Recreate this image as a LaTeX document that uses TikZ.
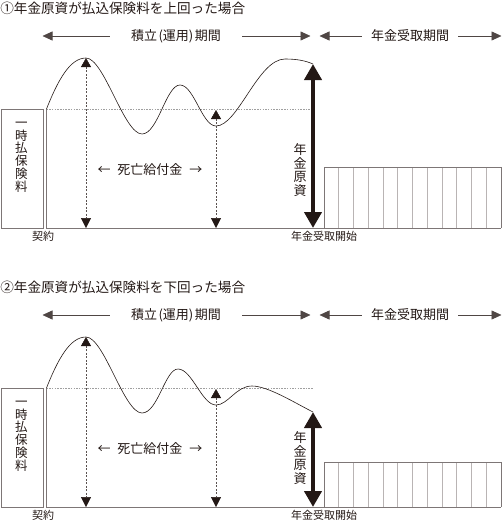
\documentclass[tikz,border=0pt]{standalone}
\usepackage{fontspec}
\setmainfont{Noto Sans CJK JP}
\usepackage{tikz}
\usetikzlibrary{arrows.meta}
\definecolor{inkblack}{RGB}{35,24,21}
\definecolor{framegray}{RGB}{125,118,118}
\definecolor{bargray}{RGB}{185,180,180}

\begin{document}
\begin{tikzpicture}[x=1pt, y=-1pt, line width=0.6pt, color=inkblack,
    txt/.style={font=\fontsize{13}{15}\selectfont, inner sep=0pt},
    small/.style={font=\fontsize{11}{13}\selectfont, inner sep=0pt},
    vtext/.style={font=\fontsize{12.5}{12.8}\selectfont, align=center, inner sep=0pt},
    period/.style={draw=inkblack!80, line width=0.6pt},
    dotline/.style={draw=gray!75, dash pattern=on 1.5pt off 1.2pt, line width=0.6pt},
    deathline/.style={draw=inkblack!75, dash pattern=on 2pt off 1.5pt, line width=0.5pt,
        arrows={Triangle[width=10pt,length=9pt,color=inkblack]-Triangle[width=10pt,length=10pt,color=inkblack]}},
    bigarrow/.style={line width=4.5pt,
        arrows={Triangle[width=17pt,length=16pt]-Triangle[width=17pt,length=16pt]}}]
  \useasboundingbox (0,0) rectangle (502,522);

  % two panels share the same frame
  \foreach \p/\oy/\num/\cmp/\bt/\at/\cy in {1/0/①/上/167/64/170, 2/279/②/下/183/133/179} {
    \begin{scope}[shift={(0,\oy)}]
      \node[txt, font=\fontsize{13.6}{15}\selectfont, anchor=west] (title\p) at (0,8)
        {\num 年金原資が払込保険料を\cmp 回った場合};
      % period arrows
      \node[txt, inner xsep=21pt] (accum\p) at (176,36) {積立\kern1.5pt(運用)\kern1.5pt期間};
      \node[txt, inner xsep=9pt] (annu\p) at (410,36) {年金受取期間};
      \coordinate (accL\p) at (42.5,36);
      \coordinate (accR\p) at (310.5,36);
      \coordinate (annL\p) at (319.5,36);
      \coordinate (annR\p) at (501.5,36);
      \draw[period, arrows={Triangle[width=9pt,length=10pt]-}] (accL\p) -- (accum\p.west);
      \draw[period, arrows={-Triangle[width=9pt,length=10pt]}] (accum\p.east) -- (accR\p);
      \draw[period, arrows={Triangle[width=9pt,length=10pt]-}] (annL\p) -- (annu\p.west);
      \draw[period, arrows={-Triangle[width=9pt,length=10pt]}] (annu\p.east) -- (annR\p);
      % single premium box
      \node[draw=framegray, minimum width=41.5pt, minimum height=119pt, anchor=north west,
            inner sep=0pt] (premium\p) at (1,109) {};
      \node[vtext] (premtxt\p) at (21.5,157) {一\\時\\払\\保\\険\\料};
      % axes and premium level
      \coordinate (start\p) at (46.5,109);
      \coordinate (orig\p) at (46.5,228);
      \coordinate (endax\p) at (501,228);
      \coordinate (level\p) at (313,109);
      \draw[framegray] (start\p) -- (orig\p) -- (endax\p);
      \draw[dotline] (start\p) -- (level\p);
      % death benefit
      \coordinate (peakA\p) at (86,58);
      \coordinate (peakB\p) at (216,110);
      \draw[deathline] (peakA\p) -- (peakA\p |- orig\p);
      \draw[deathline] (peakB\p) -- (peakB\p |- orig\p);
      \node[txt] (death\p) at (150,170) {←\hspace{7pt}死亡給付金\hspace{7pt}→};
      % annuity payments
      \draw[bargray] \foreach \i in {1,...,11} {(324+\i*14.75,\bt) -- (324+\i*14.75,228)};
      \draw[framegray] (324,228) |- (501,\bt) -- (501,228);
      % annuity fund
      \coordinate (fundtop\p) at (313,\at);
      \coordinate (fundbot\p) at (313,228);
      \draw[bigarrow] (fundtop\p) -- (fundbot\p);
      \node[vtext, font=\fontsize{13}{13.5}\selectfont] (fund\p) at (300,\cy) {年\\金\\原\\資};
      \node[small] (contract\p) at (43,236.5) {契約};
      \node[small] (payout\p) at (324,236.5) {年金受取開始};
    \end{scope}
  }

  % fund curve above the premium
  \draw (start1) .. controls (58,80) and (70,58) .. (peakA1)
    .. controls (104,58) and (124,134) .. (142,134)
    .. controls (158,134) and (166,85) .. (180,85)
    .. controls (194,85) and (202,126) .. (216,126)
    .. controls (238,126) and (258,59) .. (285,59)
    .. controls (298,59) and (306,61) .. (fundtop1);

  % fund curve below the premium
  \begin{scope}[shift={(0,279)}]
    \draw (start2) .. controls (58,80) and (70,58) .. (peakA2)
      .. controls (104,58) and (124,134) .. (142,134)
      .. controls (158,134) and (165,90) .. (178,90)
      .. controls (192,90) and (202,126) .. (216,126)
      .. controls (228,126) and (236,107) .. (252,107)
      .. controls (268,107) and (295,124) .. (fundtop2);
  \end{scope}
\end{tikzpicture}
\end{document}
